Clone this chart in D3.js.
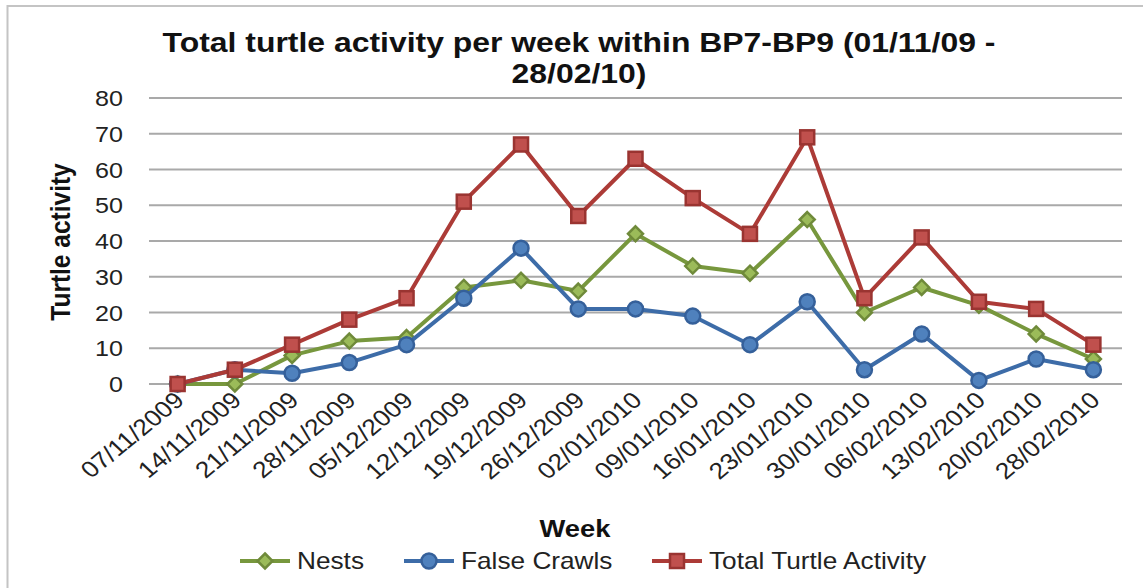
<!DOCTYPE html>
<html>
<head>
  <meta charset="utf-8" />
  <title>Total turtle activity per week within BP7-BP9</title>
  <script src="https://d3js.org/d3.v7.min.js"></script>
  <style>
    body {
      margin: 0;
      padding: 0;
      background: #fff;
    }
    svg {
      display: block;
      font-family: "Liberation Sans", Arial, sans-serif;
    }
  </style>
</head>
<body>
  <svg width="1143" height="588"></svg>

  <script>
    // data
    const weeks = ["07/11/2009", "14/11/2009", "21/11/2009", "28/11/2009", "05/12/2009", "12/12/2009",
      "19/12/2009", "26/12/2009", "02/01/2010", "09/01/2010", "16/01/2010", "23/01/2010",
      "30/01/2010", "06/02/2010", "13/02/2010", "20/02/2010", "28/02/2010"];
    const nests = [0, 0, 8, 12, 13, 27, 29, 26, 42, 33, 31, 46, 20, 27, 22, 14, 7];
    const falseCrawls = [0, 4, 3, 6, 11, 24, 38, 21, 21, 19, 11, 23, 4, 14, 1, 7, 4];
    const totalActivity = [0, 4, 11, 18, 24, 51, 67, 47, 63, 52, 42, 69, 24, 41, 23, 21, 11];
    const yTicks = [0, 10, 20, 30, 40, 50, 60, 70, 80];
    const titleLines = ["Total turtle activity per week within BP7-BP9 (01/11/09 -", "28/02/10)"];

    const series = [
      { name: "Nests", values: nests, line: "#77973d", fill: "#9bbb59", stroke: "#6f8a3a", marker: "diamond" },
      { name: "False Crawls", values: falseCrawls, line: "#3d6ca8", fill: "#4f81bd", stroke: "#35609a", marker: "circle" },
      { name: "Total Turtle Activity", values: totalActivity, line: "#ac3b37", fill: "#c0504d", stroke: "#9a3431", marker: "square" }
    ];

    const SX = 1.14; // the source picture is a little wider than tall
    const svg = d3.select("svg");

    // outer chart frame
    svg.append("rect")
      .attr("x", 7.5).attr("y", 6)
      .attr("width", 1200).attr("height", 700)
      .attr("fill", "none")
      .attr("stroke", "#c4c4c4")
      .attr("stroke-width", 2);

    const x = d3.scalePoint().domain(weeks).range([149, 1122]).padding(0.5);
    const y = d3.scaleLinear().domain([0, 80]).range([384, 98]);

    // gridlines
    svg.append("g")
      .selectAll("line")
      .data(yTicks)
      .join("line")
      .attr("x1", 149).attr("x2", 1122)
      .attr("y1", d => y(d)).attr("y2", d => y(d))
      .attr("stroke", "#a9a9a9")
      .attr("stroke-width", 2);

    function stretchedText(parent, tx, ty, str, extra) {
      const g = parent.append("g").attr("transform", `translate(${tx},${ty}) ${extra || ""} scale(${SX},1)`);
      return g.append("text").text(str);
    }

    // y tick labels
    const yLab = svg.append("g").attr("font-size", 22).attr("fill", "#222");
    yTicks.forEach(t => {
      stretchedText(yLab, 123, y(t) + 8, String(t))
        .attr("text-anchor", "end");
    });

    // x tick labels
    const xLab = svg.append("g").attr("font-size", 23).attr("fill", "#222");
    weeks.forEach(w => {
      xLab.append("g")
        .attr("transform", `translate(${x(w) + 8},${402}) scale(${SX},1) rotate(-43)`)
        .append("text")
        .attr("text-anchor", "end")
        .text(w);
    });

    // title
    const title = svg.append("g").attr("font-size", 28).attr("font-weight", "bold").attr("fill", "#111");
    titleLines.forEach((t, i) => {
      stretchedText(title, 579, 52 + i * 31, t).attr("text-anchor", "middle");
    });

    // axis titles
    svg.append("g")
      .attr("transform", `translate(70,242) scale(${SX},1) rotate(-90)`)
      .append("text")
      .attr("text-anchor", "middle")
      .attr("font-size", 24.5)
      .attr("font-weight", "bold")
      .attr("fill", "#111")
      .text("Turtle activity");

    stretchedText(svg, 575, 537, "Week")
      .attr("text-anchor", "middle")
      .attr("font-size", 24)
      .attr("font-weight", "bold")
      .attr("fill", "#111");

    function drawMarker(sel, s) {
      if (s.marker === "circle") {
        sel.append("circle").attr("r", 7.5);
      } else if (s.marker === "square") {
        sel.append("rect").attr("x", -7).attr("y", -7).attr("width", 14).attr("height", 14);
      } else {
        sel.append("path").attr("d", "M0,-7.5L7.5,0L0,7.5L-7.5,0Z");
      }
      sel.selectAll("*")
        .attr("fill", s.fill)
        .attr("stroke", s.stroke)
        .attr("stroke-width", 2.5);
    }

    const line = d3.line()
      .x((d, i) => x(weeks[i]))
      .y(d => y(d));

    series.forEach(s => {
      const g = svg.append("g");
      g.append("path")
        .attr("d", line(s.values))
        .attr("fill", "none")
        .attr("stroke", s.line)
        .attr("stroke-width", 4)
        .attr("stroke-linejoin", "round");
      s.values.forEach((v, i) => {
        const m = g.append("g").attr("transform", `translate(${x(weeks[i])},${y(v)})`);
        drawMarker(m, s);
      });
    });

    // legend
    const legendX = [240, 404, 652];
    const legend = svg.append("g");
    series.forEach((s, i) => {
      const lx = legendX[i];
      const g = legend.append("g").attr("transform", `translate(${lx},561)`);
      g.append("line")
        .attr("x1", 0).attr("x2", 50)
        .attr("stroke", s.line)
        .attr("stroke-width", 4);
      const m = g.append("g").attr("transform", "translate(25,0)");
      drawMarker(m, s);
      stretchedText(g, 57, 8, s.name)
        .attr("font-size", 23)
        .attr("fill", "#222");
    });
  </script>
</body>
</html>
